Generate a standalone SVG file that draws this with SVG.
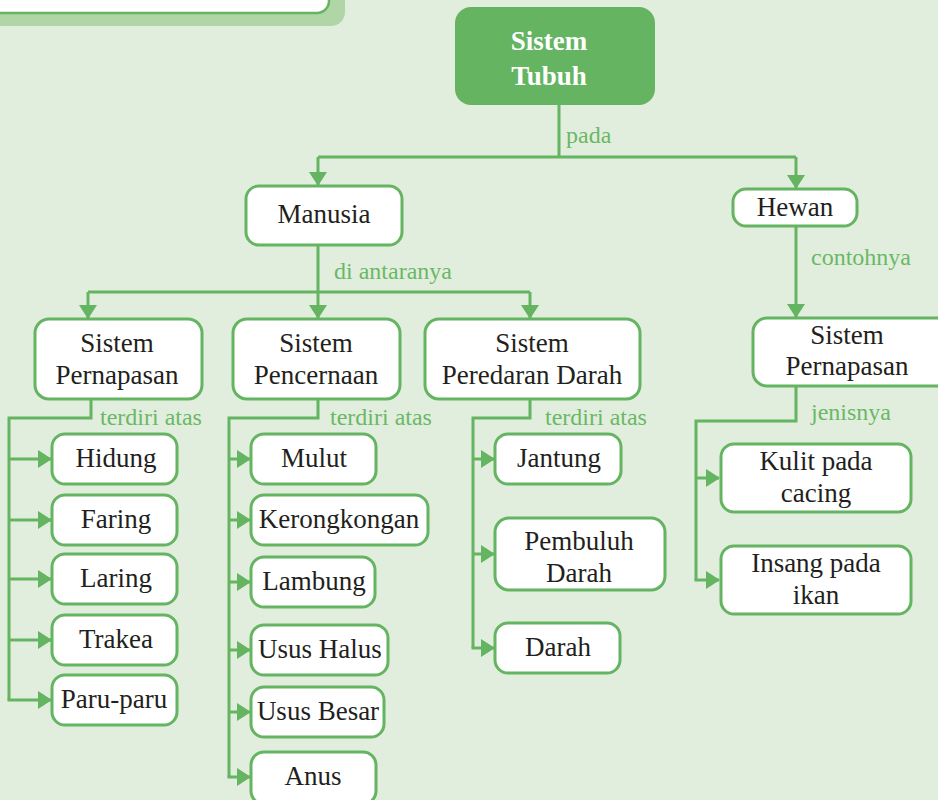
<svg xmlns="http://www.w3.org/2000/svg" width="938" height="800" viewBox="0 0 938 800">
<style>
.bg{fill:#e2eedd}
.box{fill:#ffffff;stroke:#64b461;stroke-width:3}
.main{fill:#64b461}
.t{font-family:'Liberation Serif','DejaVu Serif',serif;font-size:27px;fill:#231f20;text-anchor:middle}
.tw{font-family:'Liberation Serif','DejaVu Serif',serif;font-size:27px;font-weight:bold;fill:#ffffff;text-anchor:middle}
.lbl{font-family:'Liberation Serif','DejaVu Serif',serif;font-size:24px;fill:#6ab866}
.ln{fill:none;stroke:#64b461;stroke-width:3}
</style>
<defs>
<marker id="ah" markerUnits="userSpaceOnUse" viewBox="0 0 14 18" markerWidth="14" markerHeight="18" refX="13" refY="9" orient="auto">
<path d="M0,0 L14,9 L0,18 z" fill="#64b461"/>
</marker>
</defs>
<rect class="bg" x="0" y="0" width="938" height="800"/>
<rect x="-20" y="-30" width="365" height="56" rx="14" fill="#b0d6a8"/>
<rect x="-20" y="-30" width="349" height="43" rx="12" fill="#ffffff" stroke="#64b461" stroke-width="2.5"/>

<g id="connectors">
<path class="ln" d="M559,105 V157 M318,157 H796"/>
<path class="ln" d="M318,157 V185" marker-end="url(#ah)"/>
<path class="ln" d="M796,157 V188" marker-end="url(#ah)"/>
<path class="ln" d="M318,245 V292 M88,292 H530"/>
<path class="ln" d="M88,292 V318" marker-end="url(#ah)"/>
<path class="ln" d="M318,292 V318" marker-end="url(#ah)"/>
<path class="ln" d="M530,292 V318" marker-end="url(#ah)"/>
<path class="ln" d="M796,226 V317" marker-end="url(#ah)"/>
<path class="ln" d="M91,399 V418 H9 V700"/>
<path class="ln" d="M9,459 H51" marker-end="url(#ah)"/>
<path class="ln" d="M9,520 H51" marker-end="url(#ah)"/>
<path class="ln" d="M9,579 H51" marker-end="url(#ah)"/>
<path class="ln" d="M9,640 H51" marker-end="url(#ah)"/>
<path class="ln" d="M7.5,700 H51" marker-end="url(#ah)"/>
<path class="ln" d="M318,399 V418 H229 V777"/>
<path class="ln" d="M229,459 H250" marker-end="url(#ah)"/>
<path class="ln" d="M229,520 H250" marker-end="url(#ah)"/>
<path class="ln" d="M229,582 H250" marker-end="url(#ah)"/>
<path class="ln" d="M229,650 H250" marker-end="url(#ah)"/>
<path class="ln" d="M229,712 H250" marker-end="url(#ah)"/>
<path class="ln" d="M227.5,777 H250" marker-end="url(#ah)"/>
<path class="ln" d="M530,399 V418 H473 V648"/>
<path class="ln" d="M473,459 H494" marker-end="url(#ah)"/>
<path class="ln" d="M473,554 H494" marker-end="url(#ah)"/>
<path class="ln" d="M471.5,648 H494" marker-end="url(#ah)"/>
<path class="ln" d="M796,386 V421 H696 V580"/>
<path class="ln" d="M696,478 H719" marker-end="url(#ah)"/>
<path class="ln" d="M694.5,580 H719" marker-end="url(#ah)"/>
<text class="lbl" x="566" y="143">pada</text>
<text class="lbl" x="334" y="279">di antaranya</text>
<text class="lbl" x="811" y="265">contohnya</text>
<text class="lbl" x="100" y="425">terdiri atas</text>
<text class="lbl" x="330" y="425">terdiri atas</text>
<text class="lbl" x="545" y="425">terdiri atas</text>
<text class="lbl" x="811" y="420">jenisnya</text>
</g>

<g id="sistem-tubuh"><rect class="main" x="455" y="7" width="200" height="98" rx="16"/><text class="tw" x="549" y="50">Sistem</text><text class="tw" x="549" y="85">Tubuh</text></g>
<g id="manusia"><rect class="box" x="246" y="186" width="156" height="59" rx="13"/><text class="t" x="324" y="223">Manusia</text></g>
<g id="hewan"><rect class="box" x="733" y="189" width="124" height="37" rx="13"/><text class="t" x="795" y="216">Hewan</text></g>

<g id="sistem-pernapasan"><rect class="box" x="35" y="319" width="167" height="80" rx="14"/><text class="t" x="117" y="352">Sistem</text><text class="t" x="117" y="384">Pernapasan</text></g>
<g id="sistem-pencernaan"><rect class="box" x="233" y="319" width="167" height="80" rx="14"/><text class="t" x="316" y="352">Sistem</text><text class="t" x="316" y="384">Pencernaan</text></g>
<g id="sistem-peredaran-darah"><rect class="box" x="425" y="319" width="215" height="80" rx="14"/><text class="t" x="532" y="352">Sistem</text><text class="t" x="532" y="384">Peredaran Darah</text></g>
<g id="sistem-pernapasan-hewan"><rect class="box" x="753" y="318" width="200" height="68" rx="14"/><text class="t" x="847" y="344">Sistem</text><text class="t" x="847" y="375">Pernapasan</text></g>

<g id="hidung"><rect class="box" x="52" y="434" width="125" height="50" rx="13"/><text class="t" x="116" y="467">Hidung</text></g>
<g id="faring"><rect class="box" x="52" y="495" width="125" height="50" rx="13"/><text class="t" x="116" y="528">Faring</text></g>
<g id="laring"><rect class="box" x="52" y="554" width="125" height="50" rx="13"/><text class="t" x="116" y="587">Laring</text></g>
<g id="trakea"><rect class="box" x="52" y="615" width="125" height="50" rx="13"/><text class="t" x="116" y="648">Trakea</text></g>
<g id="paru-paru"><rect class="box" x="52" y="675" width="125" height="50" rx="13"/><text class="t" x="114" y="708">Paru-paru</text></g>

<g id="mulut"><rect class="box" x="251" y="434" width="125" height="50" rx="13"/><text class="t" x="314" y="467">Mulut</text></g>
<g id="kerongkongan"><rect class="box" x="251" y="495" width="177" height="50" rx="13"/><text class="t" x="339" y="528">Kerongkongan</text></g>
<g id="lambung"><rect class="box" x="251" y="557" width="124" height="50" rx="13"/><text class="t" x="314" y="590">Lambung</text></g>
<g id="usus-halus"><rect class="box" x="251" y="625" width="137" height="50" rx="13"/><text class="t" x="320" y="658">Usus Halus</text></g>
<g id="usus-besar"><rect class="box" x="251" y="687" width="133" height="50" rx="13"/><text class="t" x="318" y="720">Usus Besar</text></g>
<g id="anus"><rect class="box" x="251" y="752" width="125" height="52" rx="13"/><text class="t" x="313" y="785">Anus</text></g>

<g id="jantung"><rect class="box" x="495" y="434" width="126" height="50" rx="13"/><text class="t" x="559" y="467">Jantung</text></g>
<g id="pembuluh-darah"><rect class="box" x="495" y="518" width="170" height="72" rx="14"/><text class="t" x="579" y="550">Pembuluh</text><text class="t" x="579" y="582">Darah</text></g>
<g id="darah"><rect class="box" x="495" y="623" width="125" height="50" rx="13"/><text class="t" x="558" y="656">Darah</text></g>

<g id="kulit-pada-cacing"><rect class="box" x="721" y="444" width="190" height="68" rx="13"/><text class="t" x="816" y="470">Kulit pada</text><text class="t" x="816" y="502">cacing</text></g>
<g id="insang-pada-ikan"><rect class="box" x="721" y="546" width="190" height="68" rx="13"/><text class="t" x="816" y="572">Insang pada</text><text class="t" x="816" y="604">ikan</text></g>
</svg>
